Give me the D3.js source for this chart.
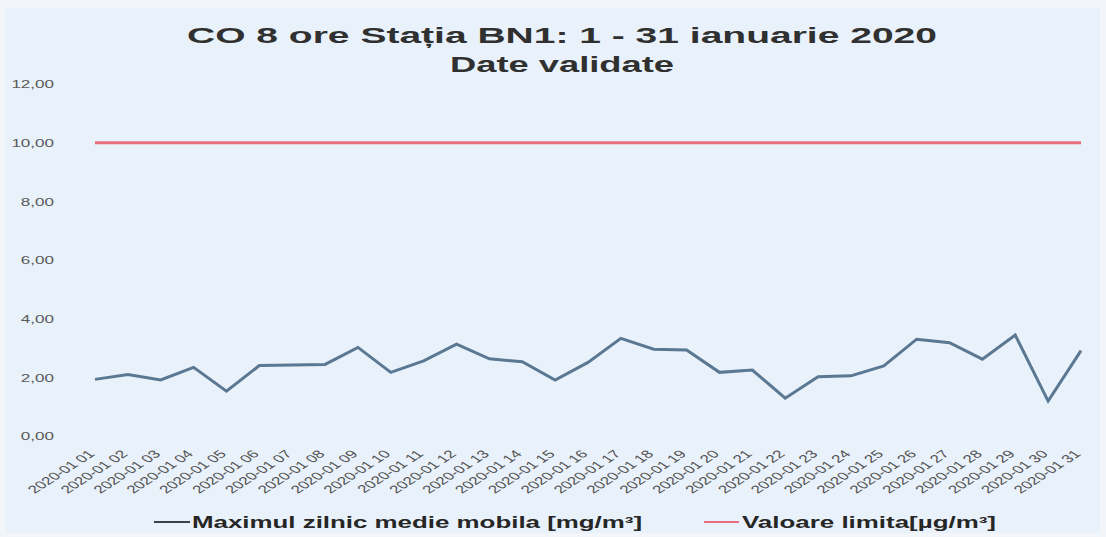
<!DOCTYPE html>
<html>
<head>
<meta charset="utf-8">
<script src="https://cdn.jsdelivr.net/npm/d3@7/dist/d3.min.js"></script>
<style>
  html, body { margin: 0; padding: 0; background: #eef3fa; }
  svg { display: block; }
  text { font-family: "Liberation Sans", Arial, sans-serif; }
</style>
</head>
<body>
<svg id="chart" width="1106" height="537"></svg>
<script>
// ---- data ----
const titleLines = ["CO 8 ore Stația BN1: 1 - 31 ianuarie 2020", "Date validate"];
const dates = [
  "2020-01 01","2020-01 02","2020-01 03","2020-01 04","2020-01 05","2020-01 06","2020-01 07",
  "2020-01 08","2020-01 09","2020-01 10","2020-01 11","2020-01 12","2020-01 13","2020-01 14",
  "2020-01 15","2020-01 16","2020-01 17","2020-01 18","2020-01 19","2020-01 20","2020-01 21",
  "2020-01 22","2020-01 23","2020-01 24","2020-01 25","2020-01 26","2020-01 27","2020-01 28",
  "2020-01 29","2020-01 30","2020-01 31"
];
const maxDaily = [
  1.93, 2.10, 1.91, 2.34, 1.53, 2.40, 2.42, 2.44, 3.02, 2.17,
  2.56, 3.13, 2.63, 2.53, 1.91, 2.51, 3.33, 2.96, 2.93, 2.17,
  2.25, 1.29, 2.02, 2.05, 2.39, 3.30, 3.18, 2.62, 3.44, 1.19, 2.91
];
const limitValue = dates.map(() => 10);
const yTicks = [0, 2, 4, 6, 8, 10, 12];
const seriesNames = ["Maximul zilnic medie mobila [mg/m³]", "Valoare limita[µg/m³]"];

// ---- layout ----
const svg = d3.select("#chart");
const W = 1106, H = 537;
const SX = 1.55; // horizontal stretch of text seen in the reference

svg.append("rect").attr("width", W).attr("height", H).attr("fill", "#f2f5fa");
svg.append("rect").attr("x", 6).attr("y", 8).attr("width", W - 12).attr("height", H - 12).attr("fill", "#e9f1fa");

const x = d3.scalePoint().domain(dates).range([95, 1081]);
const y = d3.scaleLinear().domain([0, 12]).range([436, 84]);

// title
const tEl = svg.append("g").selectAll("text").data(titleLines).join("text")
  .attr("x", 562).attr("y", (d, i) => 43 + i * 29)
  .attr("text-anchor", "middle")
  .attr("font-size", 22).attr("font-weight", "bold").attr("fill", "#303030")
  .attr("textLength", (d, i) => i === 0 ? 750 : 224)
  .attr("lengthAdjust", "spacingAndGlyphs")
  .text(d => d);

// y axis
const fmt = v => d3.format(".2f")(v).replace(".", ",");
const yAxis = svg.append("g").attr("transform", "translate(54,0)")
  .call(d3.axisLeft(y).tickValues(yTicks).tickSize(0).tickPadding(0).tickFormat(fmt));
yAxis.select(".domain").remove();
yAxis.selectAll("text")
  .attr("x", 0).attr("dy", "0.35em")
  .attr("transform", `scale(${SX},1)`)
  .attr("font-size", 11).attr("fill", "#5a5a5a")
  .style("font-family", "\"Liberation Sans\", Arial, sans-serif");

// x axis
const xAxis = svg.append("g").attr("transform", "translate(0,436)")
  .call(d3.axisBottom(x).tickSize(0).tickPadding(0));
xAxis.select(".domain").remove();
xAxis.selectAll("text")
  .attr("x", 0).attr("y", 0).attr("dy", "0.35em")
  .attr("text-anchor", "end")
  .attr("transform", `translate(-4,16) scale(${SX},1) rotate(-45)`)
  .attr("font-size", 11).attr("fill", "#505050")
  .style("font-family", "\"Liberation Sans\", Arial, sans-serif");

// lines
const line = d3.line().x((d, i) => x(dates[i])).y(d => y(d));
svg.append("path").datum(limitValue)
  .attr("d", line).attr("fill", "none")
  .attr("stroke", "#e8707e").attr("stroke-width", 3);
svg.append("path").datum(maxDaily)
  .attr("d", line).attr("fill", "none")
  .attr("stroke", "#5b7893").attr("stroke-width", 3).attr("stroke-linejoin", "miter");

// legend
const leg = svg.append("g");
leg.append("line").attr("x1", 154).attr("x2", 190).attr("y1", 522).attr("y2", 522)
  .attr("stroke", "#3a4048").attr("stroke-width", 2);
leg.append("text").attr("x", 192).attr("y", 528)
  .attr("font-size", 16).attr("font-weight", "bold").attr("fill", "#262626")
  .attr("textLength", 450).attr("lengthAdjust", "spacingAndGlyphs")
  .text(seriesNames[0]);
leg.append("line").attr("x1", 704).attr("x2", 739).attr("y1", 522).attr("y2", 522)
  .attr("stroke", "#e8707e").attr("stroke-width", 2);
leg.append("text").attr("x", 742).attr("y", 528)
  .attr("font-size", 16).attr("font-weight", "bold").attr("fill", "#262626")
  .attr("textLength", 254).attr("lengthAdjust", "spacingAndGlyphs")
  .text(seriesNames[1]);
</script>
</body>
</html>
